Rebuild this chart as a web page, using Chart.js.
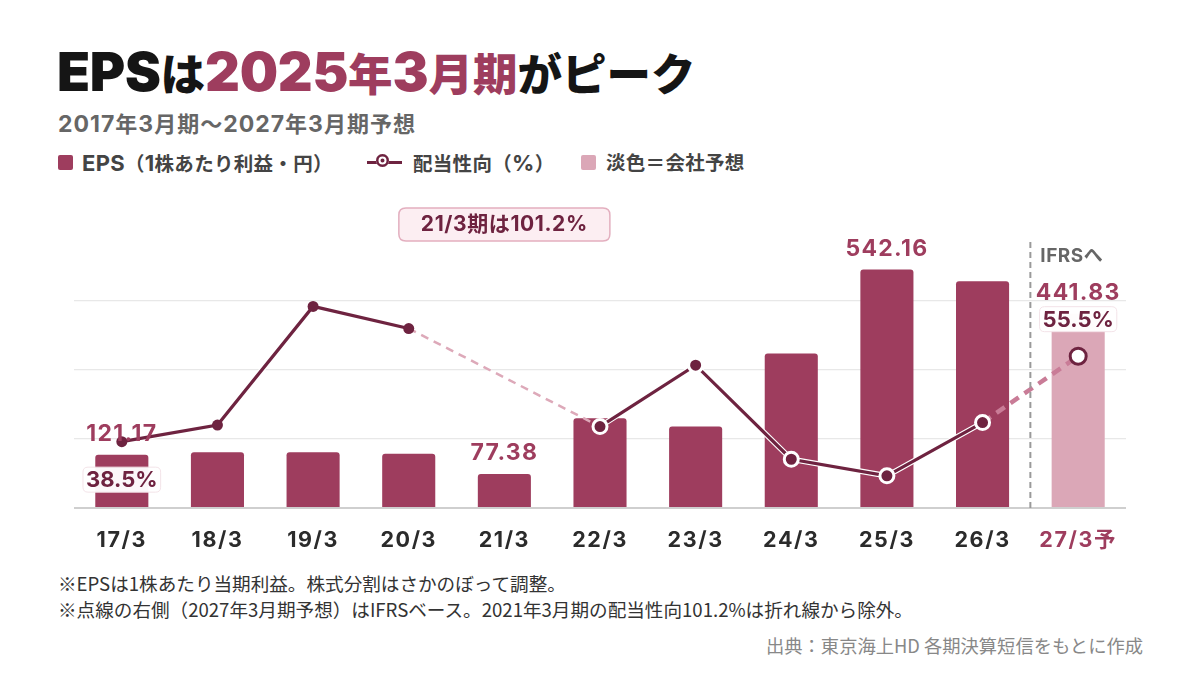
<!DOCTYPE html>
<html><head><meta charset="utf-8">
<script src="https://cdn.jsdelivr.net/npm/chart.js@4/dist/chart.umd.min.js"></script>
<style>
body{margin:0;width:1200px;height:680px;background:#fff;position:relative;overflow:hidden;font-family:"Noto Sans CJK JP","Noto Sans",sans-serif;}
.t{position:absolute;white-space:nowrap;line-height:1;}
.L{font-family:Inter,"Noto Sans",sans-serif;}
#title{left:57px;top:45px;font-size:44.5px;font-weight:900;color:#151515;}
#title .L{font-size:54px;letter-spacing:-0.3px}
#title .p{color:#9E3D5E}
#sub{left:58px;top:111px;font-size:22px;font-weight:700;color:#666;letter-spacing:1px}
#sub .L{font-size:23px}
.lg{top:152px;font-size:19.5px;font-weight:700;color:#444;letter-spacing:0.3px}
.lg .L{font-size:22px}
.sq{position:absolute;top:155px;width:15px;height:15px;border-radius:2px}
#lline{position:absolute;left:367px;top:161px;width:35px;height:3px;background:#6E2340}
#ldot{position:absolute;left:376px;top:154px;width:13px;height:13px;border-radius:50%;background:#6E2340;box-shadow:inset 0 0 0 2.5px #6E2340, inset 0 0 0 4.5px #fff;}
.fn{left:58px;font-size:18.6px;color:#333}
#src{right:57px;top:636px;font-size:18.3px;color:#888}
#cv{position:absolute;left:0;top:0}
</style></head>
<body>
<div class="t" id="title"><span class="L">EPS</span>は<span class="p"><span class="L">2025</span>年<span class="L">3</span>月期</span>がピーク</div>
<div class="t" id="sub"><span class="L">2017</span>年<span class="L">3</span>月期〜<span class="L">2027</span>年<span class="L">3</span>月期予想</div>
<div class="sq" style="left:58px;background:#9E3D5E"></div>
<div class="t lg" style="left:82px"><span class="L">EPS</span>（<span class="L">1</span>株あたり利益・円）</div>
<div id="lline"></div><div id="ldot"></div>
<div class="t lg" style="left:413px">配当性向（<span class="L">%</span>）</div>
<div class="sq" style="left:581px;background:#DBA7B7"></div>
<div class="t lg" style="left:606px">淡色＝会社予想</div>
<div class="t fn" style="top:574px">※EPSは1株あたり当期利益。株式分割はさかのぼって調整。</div>
<div class="t fn" style="top:600px">※点線の右側（2027年3月期予想）はIFRSベース。2021年3月期の配当性向101.2%は折れ線から除外。</div>
<div class="t" id="src">出典：東京海上HD 各期決算短信をもとに作成</div>
<canvas id="cv" width="1200" height="680"></canvas>
<script>
// ---- data ----
const categories = ['17/3','18/3','19/3','20/3','21/3','22/3','23/3','24/3','25/3','26/3','27/3予'];
const eps = [121.17, 127.0, 127.0, 123.2, 77.38, 204.1, 185.1, 351.5, 542.16, 515.5, 441.83];
const payout = [38.5, 41.8, 65.4, 61.0, null, 41.5, 53.7, 35.0, 31.7, 42.3, 55.5];
const payout2021 = 101.2;
const forecastIndex = 10;
const epsLabelIdx = [0, 4, 8, 10];
const pctLabelIdx = [0, 10];
const epsTicks = [0, 157.5, 315, 472.5, 630];

const C_BAR = '#9E3D5E', C_FC = '#DBA7B7', C_LINE = '#6E2340';
const FONT = 'Inter,"Noto Sans CJK JP","Noto Sans",sans-serif';

function rrect(ctx, x, y, w, h, r){
  ctx.beginPath();
  ctx.moveTo(x+r,y);ctx.lineTo(x+w-r,y);ctx.quadraticCurveTo(x+w,y,x+w,y+r);
  ctx.lineTo(x+w,y+h-r);ctx.quadraticCurveTo(x+w,y+h,x+w-r,y+h);
  ctx.lineTo(x+r,y+h);ctx.quadraticCurveTo(x,y+h,x,y+h-r);
  ctx.lineTo(x,y+r);ctx.quadraticCurveTo(x,y,x+r,y);ctx.closePath();
}
function spaced(ctx, px){ if ('letterSpacing' in ctx) ctx.letterSpacing = px + 'px'; }

const spacingPlugin = {
  id:'spacing',
  beforeDraw(chart){ spaced(chart.ctx, 1.6); },
  afterDraw(chart){ spaced(chart.ctx, 0); }
};

const labelPlugin = {
  id:'labels',
  afterDatasetsDraw(chart){
    const ctx = chart.ctx, xs = chart.scales.x, ys = chart.scales.y, yp = chart.scales.y1, ca = chart.chartArea;
    ctx.save();
    // IFRS divider
    const xd = (xs.getPixelForValue(forecastIndex-1) + xs.getPixelForValue(forecastIndex))/2;
    ctx.strokeStyle = '#9a9a9a'; ctx.lineWidth = 2; ctx.setLineDash([6,4]);
    ctx.beginPath(); ctx.moveTo(xd, ca.top+11); ctx.lineTo(xd, ca.bottom); ctx.stroke();
    ctx.setLineDash([]);
    spaced(ctx, 0.5);
    ctx.fillStyle = '#666'; ctx.font = '700 19px '+FONT; ctx.textAlign='left'; ctx.textBaseline='middle';
    ctx.fillText('IFRSへ', xd+10, ca.top+25);
    // annotation box for 21/3
    const xa = xs.getPixelForValue(4);
    spaced(ctx, 0.6);
    ctx.font = '700 21px '+FONT;
    const atxt = '21/3期は' + payout2021.toFixed(1) + '%';
    const aw = ctx.measureText(atxt).width + 44;
    rrect(ctx, xa-aw/2, ca.top-23, aw, 33, 7);
    ctx.fillStyle = '#FCEEF2'; ctx.fill(); ctx.strokeStyle='#E3AFBF'; ctx.lineWidth=1.5; ctx.stroke();
    ctx.fillStyle = C_LINE; ctx.textAlign='center'; ctx.fillText(atxt, xa, ca.top-6);
    // EPS labels
    spaced(ctx, 1.3);
    ctx.font = '700 23px '+FONT; ctx.textAlign='center'; ctx.textBaseline='middle';
    epsLabelIdx.forEach(i=>{
      const x = xs.getPixelForValue(i), y = ys.getPixelForValue(eps[i]) - 21;
      ctx.fillStyle = C_BAR; ctx.fillText(eps[i].toFixed(2), x, y);
    });
    // payout labels
    spaced(ctx, 0);
    pctLabelIdx.forEach(i=>{
      const x = xs.getPixelForValue(i), py = yp.getPixelForValue(payout[i]);
      const cy = i===0 ? py+38 : py-37;
      ctx.font = '700 22px '+FONT;
      const t = payout[i].toFixed(1)+'%';
      const w = ctx.measureText(t).width + 6;
      rrect(ctx, x-w/2, cy-12.5, w, 25, 5);
      ctx.fillStyle = 'rgba(255,255,255,0.96)'; ctx.fill();
      ctx.strokeStyle = '#F3E3E8'; ctx.lineWidth = 1; ctx.stroke();
      ctx.fillStyle = C_LINE; ctx.fillText(t, x, cy+1);
    });
    ctx.restore();
  }
};

const isGap = c => payout[c.p1DataIndex-1] === null || payout[c.p0DataIndex] === null;
const isFc = c => c.p1DataIndex === forecastIndex;
const segColor = c => isGap(c) ? '#DDA9B9' : (isFc(c) ? '#C97C97' : undefined);
const segDash = c => isGap(c) ? [8,6] : (isFc(c) ? [10,7] : undefined);
const segWidth = c => isGap(c) ? 2.5 : (isFc(c) ? 4.5 : undefined);

new Chart(document.getElementById('cv'), {
  data:{
    labels: categories,
    datasets:[
      {type:'line', data: payout, yAxisID:'y1', order:1, spanGaps:true,
       borderColor:C_LINE, borderWidth:3.2, tension:0,
       segment:{borderColor:segColor, borderDash:segDash, borderWidth:segWidth},
       pointRadius: payout.map((v,i)=> i<4 ? 5.5 : (i===forecastIndex ? 8 : 7)),
       pointBackgroundColor: payout.map((v,i)=> i===forecastIndex ? '#fff' : C_LINE),
       pointBorderColor: payout.map((v,i)=> i<4 ? C_LINE : (i===forecastIndex ? C_LINE : '#fff')),
       pointBorderWidth: payout.map((v,i)=> i<4 ? 0 : 3)},
      {type:'line', data: payout, yAxisID:'y1', order:2, spanGaps:true,
       borderColor:'#fff', borderWidth:5.5, tension:0, pointRadius:0,
       segment:{borderColor:c=> (isGap(c)||isFc(c)) ? 'rgba(0,0,0,0)' : undefined}},
      {type:'bar', data: eps, yAxisID:'y', order:3,
       backgroundColor: eps.map((v,i)=> i===forecastIndex ? C_FC : C_BAR),
       borderRadius:{topLeft:3, topRight:3, bottomLeft:0, bottomRight:0}, borderSkipped:'bottom',
       barPercentage:0.555, categoryPercentage:1}
    ]
  },
  options:{
    responsive:false, animation:false, devicePixelRatio:1,
    layout:{padding:{left:74, right:74, top:231, bottom:112}},
    plugins:{legend:{display:false}, tooltip:{enabled:false}},
    scales:{
      x:{grid:{display:false}, border:{display:false},
         ticks:{padding:12, font:{family:FONT, size:21.5, weight:'700'},
                color: c => c.index===forecastIndex ? C_BAR : '#2b2b2b'},
         afterFit(s){ s.height = 60; }},
      y:{min:0, max:630, position:'left',
         afterBuildTicks(s){ s.ticks = epsTicks.map(v=>({value:v})); },
         ticks:{display:false}, border:{display:false},
         grid:{drawTicks:false, lineWidth: c => c.tick && c.tick.value===0 ? 2 : 1.2,
               color: c => c.tick && c.tick.value===630 ? 'rgba(0,0,0,0)' : (c.tick && c.tick.value===0 ? '#cfcfcf' : '#e8e8e8')},
         afterFit(s){ s.width = 0; }},
      y1:{min:25.3, max:80.4, display:false}
    }
  },
  plugins:[spacingPlugin, labelPlugin]
});
</script>
</body></html>
